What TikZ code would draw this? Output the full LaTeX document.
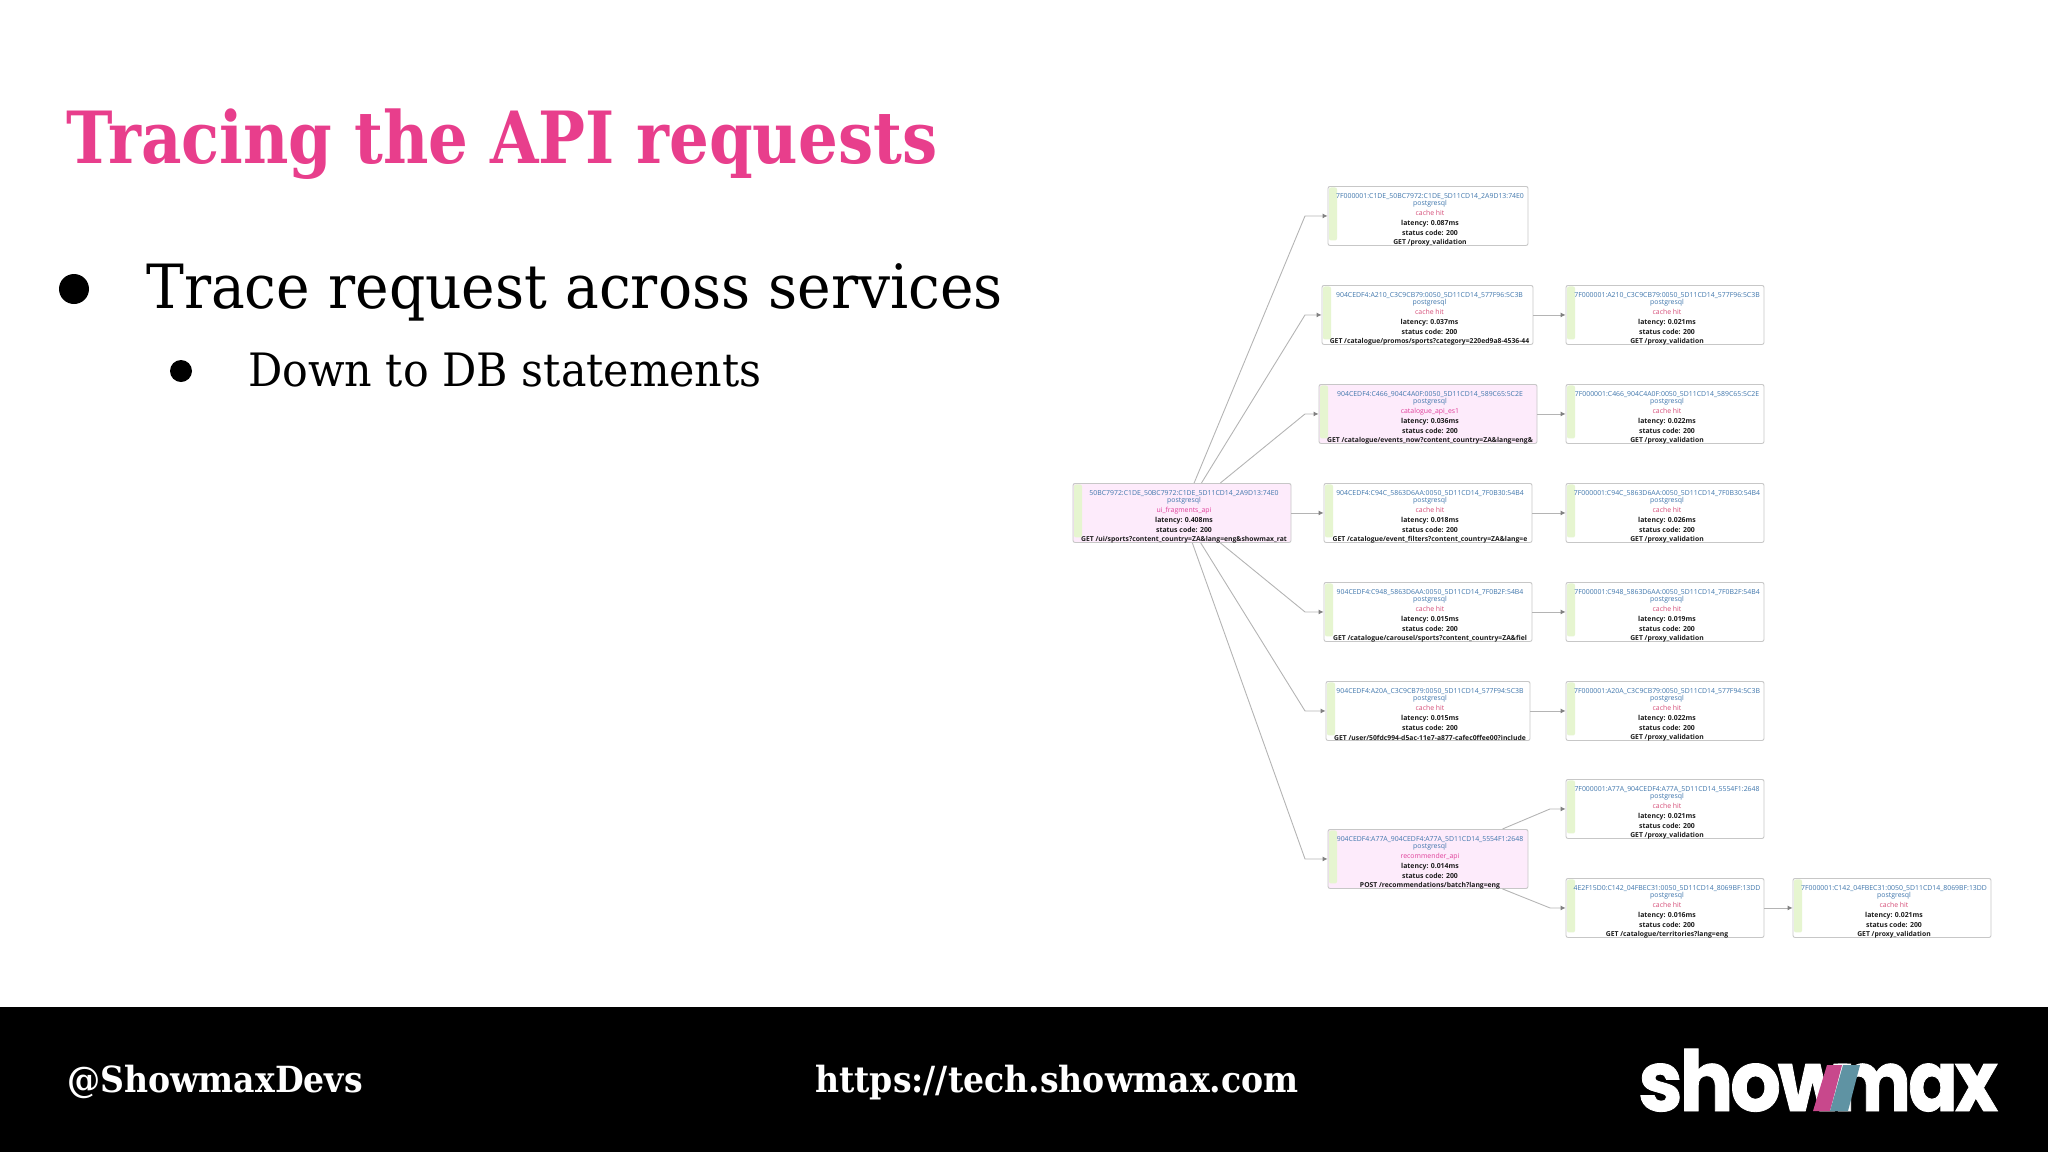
\documentclass[tikz,border=0pt]{standalone}
\usepackage{fontspec}
\usetikzlibrary{arrows.meta}
\setmainfont[FakeStretch=0.93]{DejaVu Serif}
\newfontfamily\titlefont[FakeStretch=0.868]{DejaVu Serif}
\newfontfamily\footfont[FakeStretch=0.92]{DejaVu Serif}
\newfontfamily\boxfont{Open Sans}
\newfontfamily\logofont[LetterSpace=-4,BoldFeatures={FakeBold=1}]{Poppins}
\definecolor{titlepink}{HTML}{E83E8C}
\definecolor{ink}{HTML}{1C1C1C}
\definecolor{idblue}{HTML}{3F76AC}
\definecolor{hitred}{HTML}{D6507A}
\definecolor{apipink}{HTML}{E0409A}
\definecolor{stripgreen}{HTML}{E6F5D0}
\definecolor{podpink}{HTML}{FDEBFB}
\definecolor{edgegray}{HTML}{B4B4B4}
\definecolor{logopink}{HTML}{C8488C}
\definecolor{logoteal}{HTML}{5F93A3}
\tikzset{
    tracebox/.style={draw=black!22,line width=0.9pt,rounded corners=2pt,minimum height=59pt,inner sep=0pt,
        path picture={\fill[stripgreen]([xshift=1pt,yshift=-1pt]path picture bounding box.north west)
            rectangle ([xshift=9pt,yshift=5pt]path picture bounding box.south west);}},
    tracetext/.style={inner sep=0pt,align=center,font=\boxfont\fontsize{6.9}{7}\selectfont,text=idblue},
    slidetext/.style={anchor=base west,inner sep=0pt},
    edge/.style={draw=edgegray,line width=0.9pt,-{Latex[length=5pt,width=5pt,gray]}},
}
% box: name, centre x, width, fill, top y, id, service colour, service, latency
\newcommand{\tracebox}[9]{%
    \node[tracebox,fill=#4,minimum width=#3pt,anchor=north] (#1) at (#2,#5) {};
    \node[tracetext,yshift=1.5pt] (#1text) at ([xshift=2pt]#1.center) {#6\\postgresql\\[3pt]
        \textcolor{#7}{#8}\\[3pt]\textbf{\textcolor{ink}{latency: #9ms}}\\[2.5pt]\textbf{\textcolor{ink}{status code: 200}}};
}
\newcommand{\traceget}[2]{\node[font=\boxfont\bfseries\fontsize{6.8}{7}\selectfont,text=ink,inner sep=0pt] (#1get) at ([xshift=2pt,yshift=-26.5pt]#1.center) {#2};}
\begin{document}
\begin{tikzpicture}[x=1pt,y=-1pt]
    \useasboundingbox (0,0) rectangle (2048,1152);
    \fill[black] (0,1007) rectangle (2048,1152);
    \node[slidetext,font=\titlefont\fontsize{72}{76}\selectfont\bfseries,text=titlepink] (title) at (66,163) {Tracing the API requests};
    \node[slidetext,font=\fontsize{61}{70}\selectfont] (bullet1) at (146,308) {Trace request across services};
    \fill (74,289) circle (15pt);
    \node[slidetext,font=\fontsize{46}{52}\selectfont] (bullet2) at (248,386) {Down to DB statements};
    \fill (181,371) circle (11pt);
    \node[slidetext,font=\footfont\fontsize{36}{44}\selectfont\bfseries,text=white] (handle) at (67,1092) {@ShowmaxDevs};
    \node[slidetext,font=\footfont\fontsize{36}{44}\selectfont\bfseries,text=white] (site) at (815,1092) {https://tech.showmax.com};
    % logo
    \node[font=\logofont\bfseries\fontsize{84}{84}\selectfont,text=white,anchor=base west,inner sep=0pt] (logoa) at (1638,1111) {\scalebox{0.95}[1]{show}};
    \node[font=\logofont\bfseries\fontsize{84}{84}\selectfont,text=white,anchor=base east,inner sep=0pt] (logob) at (1998,1111) {\scalebox{0.87}[1]{max}};
    \fill[logopink] (1813,1111) -- (1830,1111) -- (1842,1065) -- (1827,1065) -- cycle;
    \fill[logoteal] (1830,1111) -- (1848,1111) -- (1860,1065) -- (1843,1065) -- cycle;
    % trace graph
    \tracebox{root}{1182}{218}{podpink}{483}{50BC7972:C1DE\_50BC7972:C1DE\_5D11CD14\_2A9D13:74E0}{apipink}{ui\_fragments\_api}{0.408}
    \traceget{root}{GET /ui/sports?content\_country=ZA\&lang=eng\&showmax\_rat}
    \tracebox{a}{1428}{200}{white}{186}{7F000001:C1DE\_50BC7972:C1DE\_5D11CD14\_2A9D13:74E0}{hitred}{cache hit}{0.087}
    \traceget{a}{GET /proxy\_validation}
    \tracebox{b}{1427.5}{211}{white}{285}{904CEDF4:A210\_C3C9CB79:0050\_5D11CD14\_577F96:5C3B}{hitred}{cache hit}{0.037}
    \traceget{b}{GET /catalogue/promos/sports?category=220ed9a8-4536-44}
    \tracebox{bb}{1665}{198}{white}{285}{7F000001:A210\_C3C9CB79:0050\_5D11CD14\_577F96:5C3B}{hitred}{cache hit}{0.021}
    \traceget{bb}{GET /proxy\_validation}
    \tracebox{c}{1428}{218}{podpink}{384}{904CEDF4:C466\_904C4A0F:0050\_5D11CD14\_589C65:5C2E}{apipink}{catalogue\_api\_es1}{0.036}
    \traceget{c}{GET /catalogue/events\_now?content\_country=ZA\&lang=eng\&}
    \tracebox{cc}{1665}{198}{white}{384}{7F000001:C466\_904C4A0F:0050\_5D11CD14\_589C65:5C2E}{hitred}{cache hit}{0.022}
    \traceget{cc}{GET /proxy\_validation}
    \tracebox{d}{1428}{208}{white}{483}{904CEDF4:C94C\_5863D6AA:0050\_5D11CD14\_7F0B30:54B4}{hitred}{cache hit}{0.018}
    \traceget{d}{GET /catalogue/event\_filters?content\_country=ZA\&lang=e}
    \tracebox{dd}{1665}{198}{white}{483}{7F000001:C94C\_5863D6AA:0050\_5D11CD14\_7F0B30:54B4}{hitred}{cache hit}{0.026}
    \traceget{dd}{GET /proxy\_validation}
    \tracebox{e}{1428}{208}{white}{582}{904CEDF4:C948\_5863D6AA:0050\_5D11CD14\_7F0B2F:54B4}{hitred}{cache hit}{0.015}
    \traceget{e}{GET /catalogue/carousel/sports?content\_country=ZA\&fiel}
    \tracebox{ee}{1665}{198}{white}{582}{7F000001:C948\_5863D6AA:0050\_5D11CD14\_7F0B2F:54B4}{hitred}{cache hit}{0.019}
    \traceget{ee}{GET /proxy\_validation}
    \tracebox{f}{1428}{204}{white}{681}{904CEDF4:A20A\_C3C9CB79:0050\_5D11CD14\_577F94:5C3B}{hitred}{cache hit}{0.015}
    \traceget{f}{GET /user/50fdc994-d5ac-11e7-a877-cafec0ffee00?include}
    \tracebox{ff}{1665}{198}{white}{681}{7F000001:A20A\_C3C9CB79:0050\_5D11CD14\_577F94:5C3B}{hitred}{cache hit}{0.022}
    \traceget{ff}{GET /proxy\_validation}
    \tracebox{g}{1428}{200}{podpink}{829}{904CEDF4:A77A\_904CEDF4:A77A\_5D11CD14\_5554F1:2648}{apipink}{recommender\_api}{0.014}
    \traceget{g}{POST /recommendations/batch?lang=eng}
    \tracebox{ga}{1665}{198}{white}{779}{7F000001:A77A\_904CEDF4:A77A\_5D11CD14\_5554F1:2648}{hitred}{cache hit}{0.021}
    \traceget{ga}{GET /proxy\_validation}
    \tracebox{gb}{1665}{198}{white}{878}{4E2F15D0:C142\_04FBEC31:0050\_5D11CD14\_8069BF:13DD}{hitred}{cache hit}{0.016}
    \traceget{gb}{GET /catalogue/territories?lang=eng}
    \tracebox{gc}{1892}{198}{white}{878}{7F000001:C142\_04FBEC31:0050\_5D11CD14\_8069BF:13DD}{hitred}{cache hit}{0.021}
    \traceget{gc}{GET /proxy\_validation}
    % edges
    \coordinate (elbow) at (1305,0);
    \coordinate (elbowg) at (1550,0);
    \draw[edge] (root.68) -- (elbow |- a.west) -- (a.west);
    \draw[edge] (root.57) -- (elbow |- b.west) -- (b.west);
    \draw[edge] (root.38) -- (elbow |- c.west) -- (c.west);
    \draw[edge] (root.east) -- (d.west);
    \draw[edge] (root.-38) -- (elbow |- e.west) -- (e.west);
    \draw[edge] (root.-58) -- (elbow |- f.west) -- (f.west);
    \draw[edge] (root.-71) -- (elbow |- g.west) -- (g.west);
    \draw[edge] (b.east) -- (bb.west);
    \draw[edge] (c.east) -- (cc.west);
    \draw[edge] (d.east) -- (dd.west);
    \draw[edge] (e.east) -- (ee.west);
    \draw[edge] (f.east) -- (ff.west);
    \draw[edge] (g.north east) ++(-26,0) -- (elbowg |- ga.west) -- (ga.west);
    \draw[edge] (g.south east) ++(-26,0) -- (elbowg |- gb.west) -- (gb.west);
    \draw[edge] (gb.east) -- (gc.west);
\end{tikzpicture}
\end{document}
